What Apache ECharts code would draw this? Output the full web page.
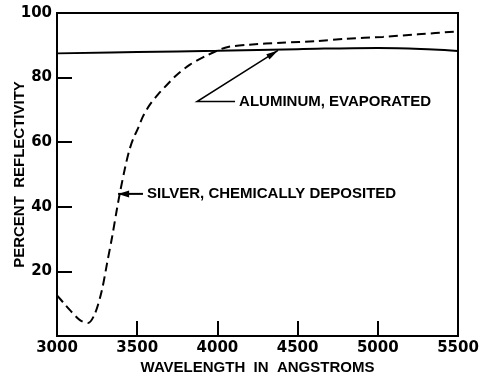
<!DOCTYPE html>
<html>
<head>
<meta charset="utf-8">
<script src="https://cdn.jsdelivr.net/npm/echarts@6/dist/echarts.min.js"></script>
<style>
  html, body { margin: 0; padding: 0; background: #fff; }
  #chart { width: 480px; height: 380px; }
</style>
</head>
<body>
<div id="chart"></div>
<script>
// Reflectivity of two mirror coatings versus wavelength (Å, %)
const silverWavelength = [3000, 3040, 3081, 3143, 3193, 3237, 3280, 3312, 3343, 3374, 3395, 3424, 3449, 3474, 3505, 3536, 3580, 3630, 3686, 3748, 3829, 3920, 3997, 4066, 4200, 4400, 4620, 4800, 5032, 5250, 5500];
const silverReflect    = [12.6, 10.3, 8.0, 4.9, 4.0, 7.0, 14.2, 22.5, 30.5, 39.4, 45.0, 52.0, 57.2, 60.9, 64.3, 68.0, 71.7, 74.8, 77.8, 80.9, 84.0, 86.5, 88.3, 89.5, 90.2, 90.8, 91.3, 92.0, 92.6, 93.4, 94.3];

const aluminumWavelength = [3000, 3500, 4000, 4500, 5000, 5345, 5500];
const aluminumReflect    = [87.5, 87.9, 88.3, 88.8, 89.2, 88.7, 88.2];

const xTicks = [3000, 3500, 4000, 4500, 5000, 5500];
const yTicks = [20, 40, 60, 80, 100];

const labelSilver = 'SILVER, CHEMICALLY DEPOSITED';
const labelAluminum = 'ALUMINUM, EVAPORATED';

const pair = (xs, ys) => xs.map((x, i) => [x, ys[i]]);

const chart = echarts.init(document.getElementById('chart'), null, { renderer: 'canvas' });
const ink = '#000';
const tickFont = { color: ink, fontFamily: 'DejaVu Sans', fontWeight: 'bold', fontSize: 15 };
const titleFont = { color: ink, fontFamily: 'Liberation Sans', fontWeight: 'bold', fontSize: 15 };

chart.setOption({
  backgroundColor: '#fff',
  animation: false,
  grid: {
    left: 57, right: 22, top: 13, bottom: 44,
    containLabel: false, outerBoundsMode: 'none',
    show: true, borderColor: ink, borderWidth: 2
  },
  xAxis: {
    type: 'value', min: 3000, max: 5500, interval: 500,
    name: 'WAVELENGTH  IN  ANGSTROMS', nameLocation: 'middle', nameGap: 24, nameMoveOverlap: false,
    nameTextStyle: titleFont,
    axisLine: { show: true, lineStyle: { color: ink, width: 2 } },
    axisTick: { show: true, inside: true, length: 15, lineStyle: { color: ink, width: 2 } },
    axisLabel: Object.assign({ margin: 5, formatter: v => xTicks.includes(v) ? String(v) : '' }, tickFont),
    splitLine: { show: false }
  },
  yAxis: {
    type: 'value', min: 0, max: 100, interval: 20,
    name: 'PERCENT  REFLECTIVITY', nameLocation: 'middle', nameGap: 30, nameMoveOverlap: false,
    nameTextStyle: titleFont,
    axisLine: { show: true, lineStyle: { color: ink, width: 2 } },
    axisTick: { show: true, inside: true, length: 15, lineStyle: { color: ink, width: 2 } },
    axisLabel: Object.assign({ margin: 5, formatter: v => yTicks.includes(v) ? String(v) : '' }, tickFont),
    splitLine: { show: false }
  },
  series: [
    {
      name: 'Aluminum', type: 'line', data: pair(aluminumWavelength, aluminumReflect),
      smooth: 0.4, showSymbol: false, symbol: 'none',
      lineStyle: { color: ink, width: 2 }
    },
    {
      name: 'Silver', type: 'line', data: pair(silverWavelength, silverReflect),
      smooth: 0.3, showSymbol: false, symbol: 'none',
      lineStyle: { color: ink, width: 2, type: [9, 5] }
    }
  ]
});

// Leader lines and labels, anchored in data coordinates
function px(x, y) { return chart.convertToPixel({ gridIndex: 0 }, [x, y]); }

function arrowHead(tip, from, len, half) {
  const dx = tip[0] - from[0], dy = tip[1] - from[1];
  const d = Math.hypot(dx, dy), ux = dx / d, uy = dy / d;
  const bx = tip[0] - ux * len, by = tip[1] - uy * len;
  return {
    type: 'polygon',
    shape: { points: [tip, [bx - uy * half, by + ux * half], [bx + uy * half, by - ux * half]] },
    style: { fill: ink }
  };
}

const textStyle = { fill: ink, font: 'bold 15px "Liberation Sans"', textVerticalAlign: 'middle' };

// Aluminum callout: arrow up to the curve, elbow, short horizontal lead to the label
const alTip = px(4378, 88.4), alBend = px(3873, 72.6), alLead = px(4110, 72.6), alText = px(4135, 72.4);
// Silver callout: short arrow pointing left at the dashed curve
const agTip = px(3381, 44), agTail = px(3536, 44), agText = px(3561, 44);

chart.setOption({
  graphic: [
    { type: 'polyline', shape: { points: [alLead, alBend, alTip] }, style: { stroke: ink, lineWidth: 1.5, fill: null } },
    arrowHead(alTip, alBend, 12, 3),
    { type: 'text', x: alText[0], y: alText[1], style: Object.assign({ text: labelAluminum, textAlign: 'left' }, textStyle) },
    { type: 'line', shape: { x1: agTail[0], y1: agTail[1], x2: agTip[0], y2: agTip[1] }, style: { stroke: ink, lineWidth: 2 } },
    arrowHead(agTip, agTail, 11, 3.5),
    { type: 'text', x: agText[0], y: agText[1], style: Object.assign({ text: labelSilver, textAlign: 'left' }, textStyle) }
  ]
});
</script>
</body>
</html>
